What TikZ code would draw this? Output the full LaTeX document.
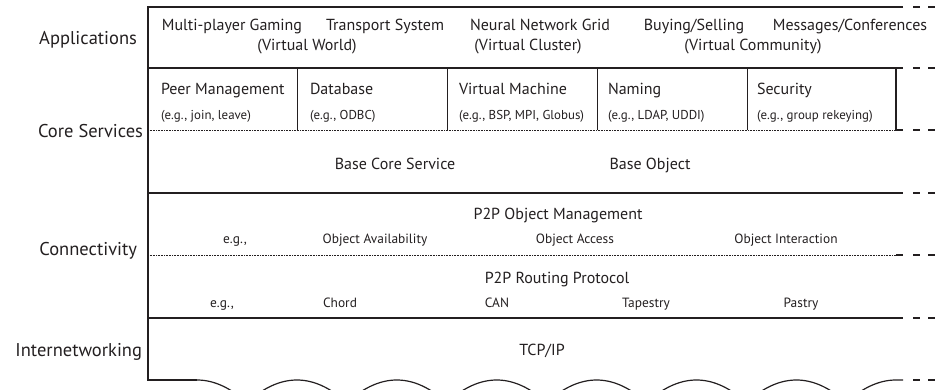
\documentclass[tikz,border=0pt]{standalone}
\usepackage{fontspec}
\setmainfont{PT Sans}
\definecolor{ink}{HTML}{231F20}
\begin{document}
\begin{tikzpicture}[x=1pt,y=-1pt,
  every node/.style={inner sep=0pt,outer sep=0pt,text=ink},
  frame/.style={draw=ink,line width=1.2pt},
  divline/.style={draw=ink,line width=1pt},
  dotline/.style={draw=ink,line width=0.6pt,dash pattern=on 0.7pt off 0.9pt},
  ext/.style={draw=ink,line width=1.2pt,dash pattern=on 0pt off 10pt on 7pt off 8pt on 7pt off 20pt},
  layer/.style={font=\fontsize{18.5}{20}\selectfont,anchor=base east},
  big/.style={font=\fontsize{16}{18}\selectfont,anchor=base},
  bigl/.style={font=\fontsize{16}{18}\selectfont,anchor=base west},
  small/.style={font=\fontsize{12.9}{14}\selectfont,anchor=base west},
  med/.style={font=\fontsize{13.4}{15}\selectfont,anchor=base}]
\useasboundingbox (0,0) rectangle (935,389);
\clip (0,0) rectangle (935,389);
% frame and layer lines
\draw[frame] (903,7) -- (148,7) -- (148,380) -- (197,380);
\draw[frame] (148,68) -- (903,68);
\draw[frame] (148,193) -- (903,193);
\draw[frame] (148,318) -- (903,318);
\draw[dotline] (148,130) -- (896,130);
\draw[dotline] (148,255) -- (896,255);
\draw[frame] (896,255) -- (903,255);
% core service dividers
\foreach \x in {297,447,597,747}{\draw[divline] (\x,68) -- (\x,130);}
\draw[frame] (896,68) -- (896,130) -- (903,130);
% right dashed continuations
\foreach \y in {7,68,130,193,255,318,380}{\draw[ext] (903,\y) -- (960,\y);}
% bottom waves
\draw[frame] plot[domain=0:45,samples=30] ({197+\x},{380+\x*\x/110});
\foreach \k in {1,...,6}{
  \draw[frame] plot[domain=-45:45,samples=40] ({197+99.9*\k+\x},{380+\x*\x/110});}
\draw[frame] plot[domain=-45:0,samples=30] ({896+\x},{380+\x*\x/110}) -- (903,380);
% layer labels
\node[layer] (lapp) at (137,44.5) {Applications};
\node[layer] (lcore) at (143,137.5) {Core Services};
\node[layer] (lconn) at (137,255.5) {Connectivity};
\node[layer] (linet) at (142,356) {Internetworking};
% applications
\node[big] (a1) at (232,30.5) {Multi-player Gaming};
\node[big] (a2) at (385,30.5) {Transport System};
\node[big] (a3) at (540,30.5) {Neural Network Grid};
\node[big] (a4) at (694,30.5) {Buying/Selling};
\node[big] (a5) at (850,30.5) {Messages/Conferences};
\node[big] (v1) at (307,50) {(Virtual World)};
\node[big] (v2) at (528,50) {(Virtual Cluster)};
\node[big] (v3) at (753,50) {(Virtual Community)};
% core services
\node[bigl] (c1) at (161,94) {Peer Management};
\node[bigl] (c2) at (310,94) {Database};
\node[bigl] (c3) at (459,94) {Virtual Machine};
\node[bigl] (c4) at (608,94) {Naming};
\node[bigl] (c5) at (757,94) {Security};
\node[small] (e1) at (161,119) {(e.g., join, leave)};
\node[small] (e2) at (310,119) {(e.g., ODBC)};
\node[small] (e3) at (459,119) {(e.g., BSP, MPI, Globus)};
\node[small] (e4) at (608,119) {(e.g., LDAP, UDDI)};
\node[small] (e5) at (757,119) {(e.g., group rekeying)};
\node[big] (bcs) at (395,169) {Base Core Service};
\node[big] (bo) at (650,169) {Base Object};
% connectivity
\node[big] (pom) at (558,219) {P2P Object Management};
\node[med] (g1) at (235,243) {e.g.,};
\node[med] (o1) at (375,243) {Object Availability};
\node[med] (o2) at (575,243) {Object Access};
\node[med] (o3) at (786,243) {Object Interaction};
\node[big] (prp) at (557,283) {P2P Routing Protocol};
\node[med] (g2) at (222,307) {e.g.,};
\node[med] (r1) at (340,307) {Chord};
\node[med] (r2) at (497,307) {CAN};
\node[med] (r3) at (646,307) {Tapestry};
\node[med] (r4) at (801,307) {Pastry};
% internetworking
\node[big] (tcp) at (542,355) {TCP/IP};
\end{tikzpicture}
\end{document}
